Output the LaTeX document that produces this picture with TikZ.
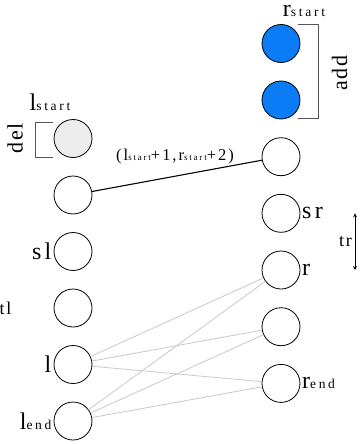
\documentclass[tikz,border=0pt]{standalone}
\usepackage{fontspec}
\setmainfont{Liberation Serif}
\newfontfamily\lsbig[LetterSpace=14]{Liberation Serif}
\newfontfamily\lsedge[LetterSpace=12]{Liberation Serif}
\newfontfamily\lssub[LetterSpace=20]{Liberation Serif}
\newfontfamily\lsrot[LetterSpace=6]{Liberation Serif}
\newfontfamily\lstt[LetterSpace=10]{Liberation Serif}
\usetikzlibrary{arrows.meta}
\definecolor{nodeblue}{RGB}{10,124,245}
\definecolor{nodegray}{RGB}{236,236,236}
\definecolor{linkgray}{RGB}{200,200,200}
\definecolor{brackgray}{RGB}{85,85,85}
\newcommand{\BL}[1]{{\fontsize{24}{24}\selectfont\lsbig #1}}
\newcommand{\SB}[1]{{\fontsize{13.5}{13.5}\selectfont\lssub #1}}
\newcommand{\EL}[1]{{\fontsize{16.5}{16.5}\selectfont\lsedge #1}}
\newcommand{\ES}[1]{{\fontsize{9}{9}\selectfont\lssub #1}}
\newcommand{\RT}[1]{{\fontsize{22}{22}\selectfont\lsrot #1}}
\newcommand{\TT}[1]{{\fontsize{18}{18}\selectfont\lstt #1}}
\begin{document}
\begin{tikzpicture}[x=1pt,y=-1pt,
  state/.style={circle,draw,line width=0.8pt,minimum size=38pt,inner sep=0pt},
  addstate/.style={state,fill=nodeblue},
  delstate/.style={state,fill=nodegray},
  lablft/.style={anchor=east,inner sep=2pt},
  labrgt/.style={anchor=west,inner sep=1.5pt},
  graylink/.style={draw=linkgray,line width=0.8pt},
  mainlink/.style={draw=black,line width=1.1pt},
  brack/.style={draw=brackgray,line width=1pt},
  spanarrow/.style={draw=black,line width=0.8pt,{Stealth[length=4pt,width=4pt]}-{Stealth[length=4pt,width=4pt]}}
]
\useasboundingbox (0,0) rectangle (360,444);
% left column
\node[delstate] (L0) at (73,138.5) {};
\node[state] (L1) at (73,195) {};
\node[state] (L2) at (73,251.5) {};
\node[state] (L3) at (73,308) {};
\node[state] (L4) at (73,364.5) {};
\node[state] (L5) at (73,421) {};
% right column
\node[addstate] (R0) at (281,43.5) {};
\node[addstate] (R1) at (281,100) {};
\node[state] (R2) at (281,156.7) {};
\node[state] (R3) at (281,213.3) {};
\node[state] (R4) at (281,270) {};
\node[state] (R5) at (281,326.7) {};
\node[state] (R6) at (281,383.4) {};
% labels
\node[anchor=base,inner sep=0pt] (lstart) at (50,110) {\BL{l}\SB{start}};
\node[anchor=base,inner sep=0pt,text height=13pt,text depth=0pt] (rstart) at (304,17) {\BL{r}\SB{start}};
\node[lablft] (sl) at (L2.west) {\BL{sl}};
\node[lablft] (ll) at (L4.west) {\BL{l}};
\node[lablft] (lend) at (L5.west) {\BL{l}\SB{end}};
\node[labrgt] (sr) at (R3.east) {\BL{sr}};
\node[labrgt] (rr) at (R4.east) {\BL{r}};
\node[labrgt] (rend) at (R6.east) {\BL{r}\SB{end}};
% spans
\coordinate (tra) at (355,213.3);
\coordinate (trb) at (355,270);
\draw[spanarrow] (tra) -- (trb);
\node[anchor=east,inner sep=0pt] (trlab) at (352,241.5) {\TT{tr}};
\coordinate (tla) at (-2.5,251.5);
\coordinate (tlb) at (-2.5,364.5);
\draw[spanarrow] (tla) -- (tlb);
\node[anchor=west,inner sep=0pt] (tllab) at (-0.5,308) {\TT{tl}};
% brackets
\draw[brack] (53,122) -- (35,122) -- (35,157) -- (53,157);
\node[rotate=90,inner sep=0pt] (dellab) at (15,138.5) {\RT{del}};
\draw[brack] (298,25) -- (318,25) -- (318,118) -- (298,118);
\node[rotate=90,inner sep=0pt] (addlab) at (339.5,73) {\RT{add}};
% links
\draw[mainlink] (L1) -- (R2);
\node[inner sep=0pt] (elab) at (175,157) {\EL{(l}\ES{start}\EL{+1,r}\ES{start}\EL{+2)}};
\foreach \a in {L4,L5}{
  \foreach \b in {R4,R5,R6}{
    \draw[graylink] (\a) -- (\b);
  }
}
\end{tikzpicture}
\end{document}
